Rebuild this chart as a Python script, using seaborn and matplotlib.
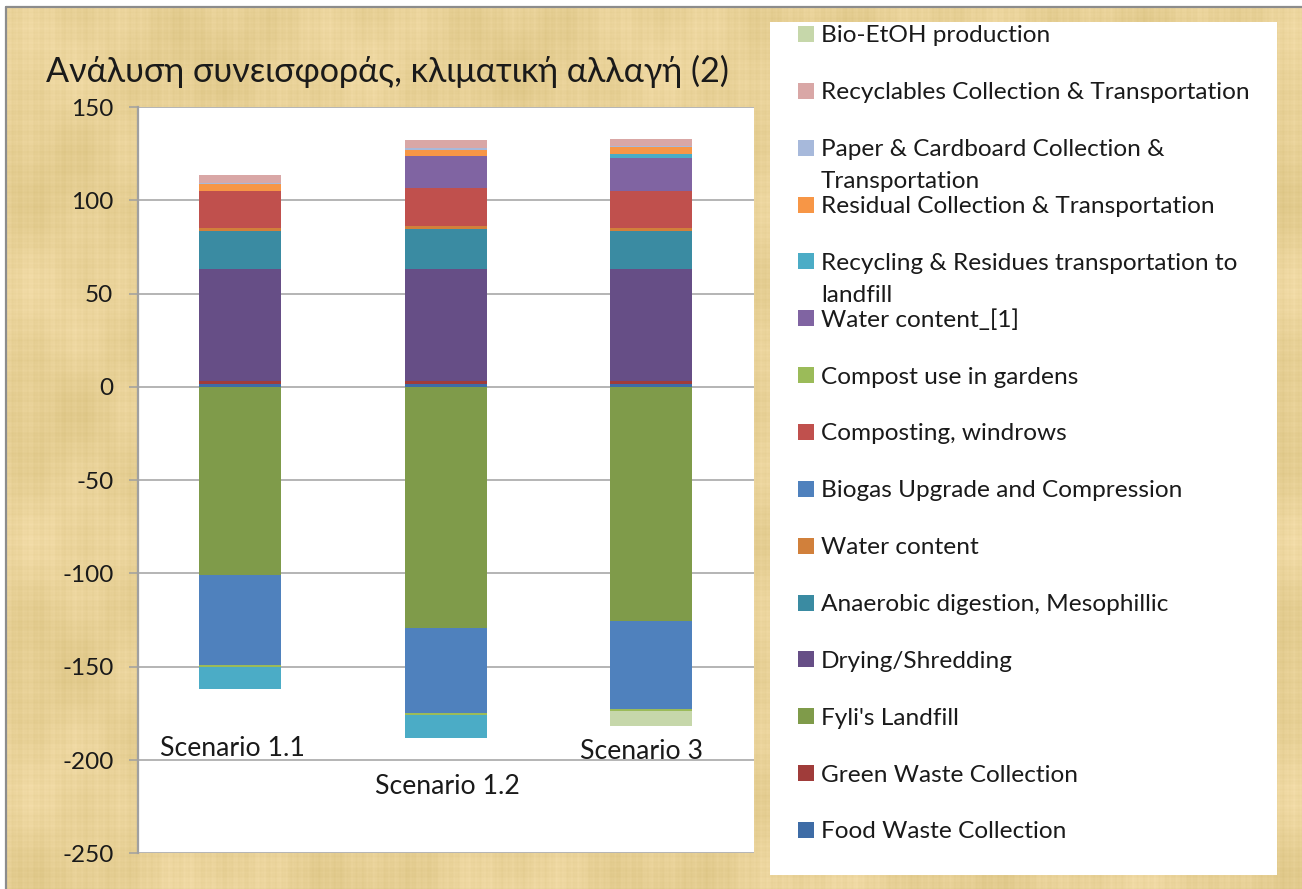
import numpy as np
import matplotlib
matplotlib.use("Agg")
import matplotlib.pyplot as plt
from matplotlib.patches import Rectangle
from matplotlib.lines import Line2D
import seaborn as sns

# ---- data -------------------------------------------------------------
scenarios = ["Scenario 1.1", "Scenario 1.2", "Scenario 3"]

food_waste_collection = [1.8, 1.8, 1.8]
green_waste_collection = [1.2, 1.2, 1.2]
fylis_landfill = [-100.9, -129.5, -125.4]
drying_shredding = [60.0, 60.0, 60.0]
anaerobic_digestion = [20.6, 21.8, 20.6]
water_content = [1.4, 1.4, 1.4]
biogas_upgrade = [-48.4, -45.2, -47.5]
composting_windrows = [20.1, 20.2, 19.9]
compost_use_gardens = [-1.1, -1.2, -0.6]
water_content_1 = [0.0, 17.5, 17.9]
recycling_residues_transport = [-11.8, -12.5, 2.1]
residual_collection = [3.4, 3.2, 3.4]
paper_cardboard_collection = [0.6, 0.9, 0.9]
recyclables_collection = [4.4, 4.5, 3.8]
bio_etoh_production = [0.0, 0.0, -8.2]

series_names = [
    "Food Waste Collection",
    "Green Waste Collection",
    "Fyli's Landfill",
    "Drying/Shredding",
    "Anaerobic digestion, Mesophillic",
    "Water content",
    "Biogas Upgrade and Compression",
    "Composting, windrows",
    "Compost use in gardens",
    "Water content_[1]",
    "Recycling & Residues transportation to\nlandfill",
    "Residual Collection & Transportation",
    "Paper & Cardboard Collection &\nTransportation",
    "Recyclables Collection & Transportation",
    "Bio-EtOH production",
]
series_values = [
    food_waste_collection, green_waste_collection, fylis_landfill,
    drying_shredding, anaerobic_digestion, water_content, biogas_upgrade,
    composting_windrows, compost_use_gardens, water_content_1,
    recycling_residues_transport, residual_collection,
    paper_cardboard_collection, recyclables_collection, bio_etoh_production,
]
series_colors = [
    "#3E6CA6", "#A03C3A", "#7F9B4A", "#664E86", "#3A8BA2", "#D1803B",
    "#4F81BD", "#C0504D", "#9BBB59", "#8064A2", "#4BACC6", "#F79646",
    "#A7B9DB", "#D9A7A6", "#C6D7AA",
]

y_ticks = [150, 100, 50, 0, -50, -100, -150, -200, -250]
chart_title = "Ανάλυση συνεισφοράς, κλιματική αλλαγή (2)"

# ---- style ------------------------------------------------------------
W, H = 1302, 889
sns.set_theme(style="white")
plt.rcParams["font.family"] = ["Lato", "Noto Sans", "DejaVu Sans"]
plt.rcParams["axes.unicode_minus"] = False
TXT = "#1A1A1A"
GRID = "#A0A0A0"


def fx(px):
    return px / W


def fy(py):
    return 1 - py / H


fig = plt.figure(figsize=(W / 100, H / 100), dpi=100, facecolor="white")

# parchment backdrop: woven fibre pattern built from layered sine waves
bg_w, bg_h = W - 7, H - 7
xs = np.arange(bg_w)[None, :]
ys = np.arange(bg_h)[:, None]
fibres_v = (0.5 * np.sin(2 * np.pi * xs / 7.3) + 0.3 * np.sin(2 * np.pi * xs / 3.1 + 1.0)
            + 0.45 * np.sin(2 * np.pi * xs / 23.0 + 2.0))
fibres_h = (0.5 * np.sin(2 * np.pi * ys / 6.7 + 0.5) + 0.3 * np.sin(2 * np.pi * ys / 2.9)
            + 0.4 * np.sin(2 * np.pi * ys / 19.0 + 1.3))
blotch = (np.sin(2 * np.pi * xs / 310.0 + 0.7) * np.sin(2 * np.pi * ys / 240.0 + 0.2)
          + 0.6 * np.sin(2 * np.pi * xs / 97.0) * np.sin(2 * np.pi * ys / 131.0 + 1.1))
shade = 3.0 * fibres_v + 2.4 * fibres_h + 5.0 * blotch
base_rgb = np.array([232.0, 209.0, 151.0])
tint = np.array([1.0, 1.05, 1.6])
texture = np.clip(base_rgb[None, None, :] + shade[..., None] * tint[None, None, :], 0, 255) / 255.0
bg_ax = fig.add_axes([fx(7), 0, 1 - fx(7), fy(7)], zorder=-10)
bg_ax.imshow(texture, aspect="auto", interpolation="bilinear")
bg_ax.set_axis_off()

fig.add_artist(Line2D([fx(6), 1], [fy(6.5), fy(6.5)], transform=fig.transFigure,
                      color="#8C8C8C", lw=1.6, zorder=1))
fig.add_artist(Line2D([fx(6), fx(6)], [0, fy(6.5)], transform=fig.transFigure,
                      color="#8C8C8C", lw=1.6, zorder=1))

# ---- stacked bars -----------------------------------------------------
ax = fig.add_axes([fx(137.7), fy(853.3), fx(753.5 - 137.7), (853.3 - 107.0) / H])
ax.set_zorder(5)
ax.set_facecolor("white")

pos_base = np.zeros(len(scenarios))
neg_base = np.zeros(len(scenarios))
for vals, col in zip(series_values, series_colors):
    v = np.asarray(vals, dtype=float)
    base = np.where(v >= 0, pos_base, neg_base)
    sns.barplot(x=scenarios, y=v, bottom=base, color=col, width=0.4,
                saturation=1, errorbar=None, linewidth=0, ax=ax)
    pos_base += np.where(v > 0, v, 0)
    neg_base += np.where(v < 0, v, 0)

ax.set_xlim(-0.5, 2.5)
ax.set_ylim(-250, 150)
ax.set_yticks(y_ticks)
ax.set_xticks([])
ax.set_xlabel("")
ax.set_ylabel("")
ax.yaxis.grid(True, color=GRID, lw=1.1)
ax.set_axisbelow(True)
for side in ["top", "right", "bottom"]:
    ax.spines[side].set_visible(False)
ax.spines["left"].set_color(GRID)
ax.spines["left"].set_linewidth(1.6)
ax.tick_params(axis="y", left=True, length=6.5, width=1.1, color=GRID, pad=11,
               labelsize=17.5, labelcolor=TXT)

# category labels, staggered inside the plot area
label_offsets = [(-0.04, -197.6), (0.01, -218.0), (-0.045, -199.2)]
for i, (name, (dx, yb)) in enumerate(zip(scenarios, label_offsets)):
    ax.text(i + dx, yb, name, ha="center", va="baseline", fontsize=19.2, color=TXT)

# ---- title ------------------------------------------------------------
fig.text(fx(46), fy(82), chart_title, ha="left", va="baseline", fontsize=24.6, color=TXT)

# ---- legend panel -----------------------------------------------------
fig.patches.append(Rectangle((fx(770), fy(875)), fx(1277 - 770), (875 - 22) / H,
                             transform=fig.transFigure, facecolor="white",
                             edgecolor="none", zorder=2))
entry_top, entry_step, line_step = 34.0, 56.86, 32.0
for k, (name, col) in enumerate(zip(series_names[::-1], series_colors[::-1])):
    yc = entry_top + k * entry_step
    fig.patches.append(Rectangle((fx(798), fy(yc + 8)), fx(16), 16 / H,
                                 transform=fig.transFigure, facecolor=col,
                                 edgecolor="none", zorder=3))
    for j, line in enumerate(name.split("\n")):
        fig.text(fx(821), fy(yc + 8.4 + j * line_step), line, ha="left",
                 va="baseline", fontsize=17.6, color=TXT, zorder=4)

fig.savefig("out.png", dpi=100, facecolor=fig.get_facecolor())
